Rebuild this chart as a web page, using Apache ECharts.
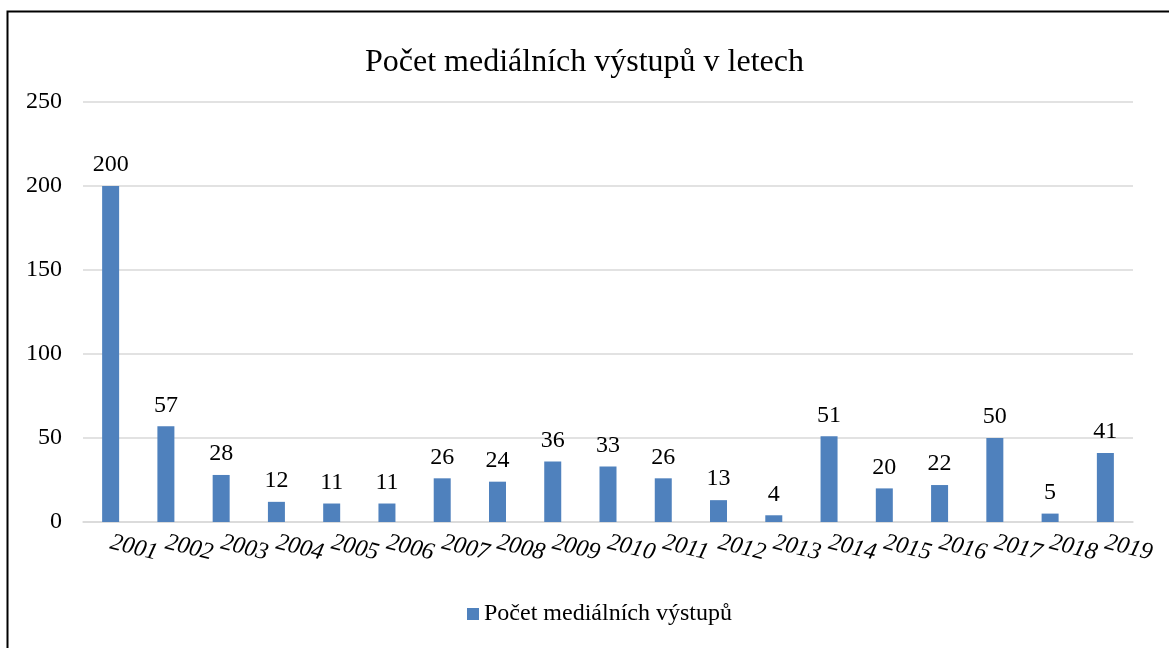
<!DOCTYPE html>
<html>
<head>
<meta charset="utf-8">
<script src="https://cdn.jsdelivr.net/npm/echarts@6/dist/echarts.min.js"></script>
<style>
  html, body { margin: 0; padding: 0; background: #fff; }
  #main { width: 1169px; height: 648px; }
</style>
</head>
<body>
<div id="main"></div>
<script>
    var years = ['2001', '2002', '2003', '2004', '2005', '2006', '2007', '2008', '2009', '2010',
        '2011', '2012', '2013', '2014', '2015', '2016', '2017', '2018', '2019'];
    var vystupy = [200, 57, 28, 12, 11, 11, 26, 24, 36, 33, 26, 13, 4, 51, 20, 22, 50, 5, 41];
    var seriesName = 'Počet mediálních výstupů';

    var myChart = echarts.init(document.getElementById('main'));
    var serif = '"Liberation Serif", "Times New Roman", serif';

    var option = {
        textStyle: { fontFamily: serif },
        title: {
            text: 'Počet mediálních výstupů v letech',
            left: 'center',
            top: 42,
            textStyle: { fontFamily: serif, fontSize: 32, fontWeight: 'normal', color: '#000' }
        },
        graphic: [
            {
                // rámeček grafu
                type: 'rect',
                shape: { x: 7.5, y: 11.5, width: 1300, height: 800 },
                style: { fill: null, stroke: '#000', lineWidth: 2 }
            }
        ],
        legend: {
            data: [seriesName],
            bottom: 17,
            left: 462,
            itemWidth: 12,
            itemHeight: 12,
            icon: 'rect',
            textStyle: { fontFamily: serif, fontSize: 24, color: '#000' }
        },
        grid: {
            left: 83,
            right: 36,
            top: 102,
            bottom: 126,
            containLabel: false
        },
        xAxis: {
            type: 'category',
            data: years,
            axisLine: { lineStyle: { color: '#d9d9d9', width: 1.5 } },
            axisTick: { show: false },
            axisLabel: {
                rotate: -14,
                margin: 20,
                fontFamily: serif,
                fontStyle: 'italic',
                fontSize: 24,
                color: '#000',
                interval: 0
            }
        },
        yAxis: {
            type: 'value',
            min: 0,
            max: 250,
            interval: 50,
            axisLine: { show: false },
            axisTick: { show: false },
            splitLine: { lineStyle: { color: '#d9d9d9', width: 1.5 } },
            axisLabel: { fontFamily: serif, fontSize: 24, color: '#000', margin: 21 }
        },
        series: [
            {
                name: seriesName,
                type: 'bar',
                data: vystupy,
                barWidth: 17,
                itemStyle: { color: '#4f81bd' },
                label: {
                    show: true,
                    position: 'top',
                    distance: 9,
                    fontFamily: serif,
                    fontSize: 24,
                    color: '#000'
                }
            }
        ]
    };

    myChart.setOption(option);
</script>
</body>
</html>
